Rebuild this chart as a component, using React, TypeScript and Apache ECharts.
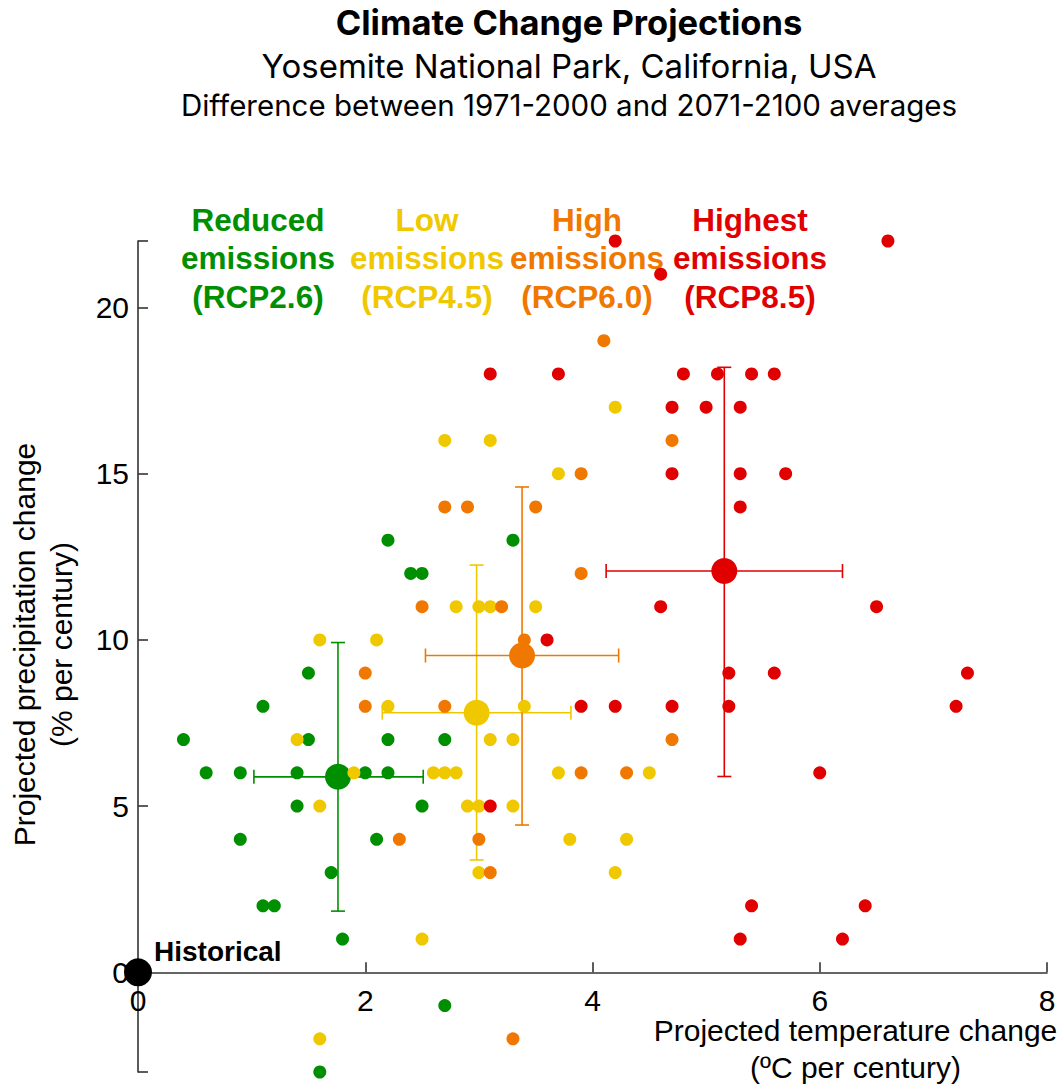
import React, { useEffect, useRef } from 'react';
import * as echarts from 'echarts';

// ---------- data ----------
const scenarioLabels = [
  'Reduced\nemissions\n(RCP2.6)',
  'Low\nemissions\n(RCP4.5)',
  'High\nemissions\n(RCP6.0)',
  'Highest\nemissions\n(RCP8.5)',
];
const scenarioKeys = ['RCP2.6', 'RCP4.5', 'RCP6.0', 'RCP8.5'];

// individual model projections: [temperature change, precipitation change]
const rcp26 = [
  [0.4, 7], [0.6, 6], [0.9, 6], [0.9, 4], [1.1, 8], [1.1, 2], [1.2, 2], [1.4, 6], [1.4, 5],
  [1.5, 9], [1.5, 7], [1.7, 3], [1.8, 1], [2.0, 6], [2.1, 4], [2.2, 13], [2.2, 7], [2.2, 6],
  [2.4, 12], [2.5, 12], [2.5, 5], [2.7, 7], [2.7, -1], [1.6, -3], [3.3, 13],
];
const rcp45 = [
  [1.4, 7], [1.6, 10], [1.6, 5], [1.6, -2], [1.9, 6], [2.1, 10], [2.2, 8], [2.5, 1], [2.6, 6],
  [2.7, 6], [2.8, 6], [2.7, 16], [2.8, 11], [3.0, 11], [3.1, 11], [3.1, 16], [3.5, 11], [3.4, 8],
  [3.1, 7], [3.3, 7], [2.9, 5], [3.0, 5], [3.3, 5], [3.0, 3], [3.7, 15], [3.7, 6], [3.8, 4],
  [4.2, 17], [4.2, 3], [4.3, 4], [4.5, 6],
];
const rcp60 = [
  [2.0, 9], [2.0, 8], [2.3, 4], [2.5, 11], [2.7, 14], [2.9, 14], [2.7, 8], [3.2, 11], [3.4, 10],
  [3.5, 14], [3.0, 4], [3.1, 3], [3.3, -2], [3.9, 15], [3.9, 12], [3.9, 6], [4.1, 19], [4.3, 6],
  [4.7, 16], [4.7, 7],
];
const rcp85 = [
  [3.1, 18], [3.7, 18], [3.1, 5], [3.6, 10], [3.9, 8], [4.2, 22], [4.2, 8], [4.6, 21], [4.6, 11],
  [4.7, 17], [4.7, 15], [4.7, 8], [4.8, 18], [5.0, 17], [5.1, 18], [5.3, 17], [5.3, 15], [5.3, 14],
  [5.4, 18], [5.6, 18], [5.7, 15], [5.2, 9], [5.2, 8], [5.6, 9], [6.0, 6], [6.5, 11], [6.6, 22],
  [7.2, 8], [7.3, 9], [5.4, 2], [6.4, 2], [5.3, 1], [6.2, 1],
];
const scenarioPoints = [rcp26, rcp45, rcp60, rcp85];

// ensemble means and spreads
const meanTemp = [1.76, 2.98, 3.38, 5.16];
const meanPrecip = [5.88, 7.81, 9.53, 12.07];
const tempLow = [1.02, 2.15, 2.53, 4.12];
const tempHigh = [2.51, 3.81, 4.23, 6.2];
const precipLow = [1.84, 3.38, 4.43, 5.89];
const precipHigh = [9.92, 12.25, 14.6, 18.2];

const historical = [[0, 0]];

const xTickValues = [0, 2, 4, 6, 8];
const yLabelValues = [0, 5, 10, 15, 20];
const yTickValues = [-3, 0, 5, 10, 15, 20, 22];
const yMin = -3;
const yMax = 22;

// ---------- styling ----------
const colors = ['#008f00', '#f0c800', '#f07800', '#e00000'];
const labelCenters = [258, 427, 587, 750];
const helv = '"Liberation Sans", Arial, Helvetica, sans-serif';
const titleFont = 'Inter, "Open Sans", sans-serif';
const gridTop = 241;
const gridBottom = 14;
const gridHeight = 1086 - gridTop - gridBottom;

export default function App() {
  const ref = useRef<HTMLDivElement>(null);

  useEffect(() => {
    if (!ref.current) return;
    const chart = echarts.init(ref.current, null, { renderer: 'svg' });

    const series: any[] = [];
    scenarioKeys.forEach((key, i) => {
      const color = colors[i];
      series.push({
        name: key,
        type: 'scatter',
        data: scenarioPoints[i],
        symbolSize: 13,
        itemStyle: { color, opacity: 1 },
        emphasis: { disabled: true },
      });
      series.push({
        name: key + ' spread',
        type: 'custom',
        data: [[meanTemp[i], meanPrecip[i], tempLow[i], tempHigh[i], precipLow[i], precipHigh[i]]],
        encode: { x: [0, 2, 3], y: [1, 4, 5] },
        renderItem: (params: any, api: any) => {
          const mx = api.value(0);
          const my = api.value(1);
          const pL = api.coord([api.value(2), my]);
          const pR = api.coord([api.value(3), my]);
          const pB = api.coord([mx, api.value(4)]);
          const pT = api.coord([mx, api.value(5)]);
          const c = 7;
          const style = { stroke: color, lineWidth: 1.6, fill: null };
          return {
            type: 'group',
            children: [
              { type: 'line', shape: { x1: pL[0], y1: pL[1], x2: pR[0], y2: pR[1] }, style },
              { type: 'line', shape: { x1: pL[0], y1: pL[1] - c, x2: pL[0], y2: pL[1] + c }, style },
              { type: 'line', shape: { x1: pR[0], y1: pR[1] - c, x2: pR[0], y2: pR[1] + c }, style },
              { type: 'line', shape: { x1: pB[0], y1: pB[1], x2: pT[0], y2: pT[1] }, style },
              { type: 'line', shape: { x1: pB[0] - c, y1: pB[1], x2: pB[0] + c, y2: pB[1] }, style },
              { type: 'line', shape: { x1: pT[0] - c, y1: pT[1], x2: pT[0] + c, y2: pT[1] }, style },
            ],
          };
        },
      });
      series.push({
        name: key + ' mean',
        type: 'scatter',
        data: [[meanTemp[i], meanPrecip[i]]],
        symbolSize: 26,
        itemStyle: { color, opacity: 1 },
        emphasis: { disabled: true },
      });
    });

    series.push({
      name: 'Historical',
      type: 'scatter',
      data: historical,
      symbolSize: 28,
      itemStyle: { color: '#000', opacity: 1 },
      emphasis: { disabled: true },
      label: {
        show: true,
        position: 'right',
        distance: 2,
        offset: [0, -21],
        formatter: 'Historical',
        color: '#000',
        fontFamily: helv,
        fontWeight: 'bold',
        fontSize: 28,
      },
      z: 5,
    });

    const graphics: any[] = [
      {
        type: 'text', x: 569, y: 22,
        style: { text: 'Climate Change Projections', align: 'center', verticalAlign: 'middle',
          fontFamily: titleFont, fontWeight: 'bold', fontSize: 34.5, lineHeight: 35, fill: '#000' },
      },
      {
        type: 'text', x: 569, y: 66,
        style: { text: 'Yosemite National Park, California, USA', align: 'center', verticalAlign: 'middle',
          fontFamily: titleFont, fontSize: 33, lineHeight: 33, fill: '#000' },
      },
      {
        type: 'text', x: 569, y: 104.5,
        style: { text: 'Difference between 1971-2000 and 2071-2100 averages', align: 'center', verticalAlign: 'middle',
          fontFamily: titleFont, fontSize: 29.5, lineHeight: 29, fill: '#000' },
      },
    ];
    scenarioLabels.forEach((t, i) => {
      graphics.push({
        type: 'text', x: labelCenters[i], y: 258, z: -1,
        style: { text: t, align: 'center', verticalAlign: 'middle', fontFamily: helv, fontWeight: 'bold',
          fontSize: 31.5, lineHeight: 38.5, fill: colors[i] },
      });
    });

    // the x axis crosses the y axis at precipitation 0
    const xAxisOffset = -(gridHeight * (0 - yMin)) / (yMax - yMin);

    chart.setOption({
      animation: false,
      backgroundColor: '#fff',
      grid: { left: 138, right: 14, top: gridTop, bottom: gridBottom, containLabel: false, outerBoundsMode: 'none' },
      tooltip: { show: false },
      xAxis: {
        type: 'value', min: 0, max: 8, interval: 2,
        position: 'bottom',
        offset: xAxisOffset,
        name: 'Projected temperature change\n(ºC per century)',
        nameLocation: 'middle', nameGap: 40, nameMoveOverlap: false,
        nameTextStyle: { fontFamily: helv, fontSize: 30, color: '#000', align: 'center', verticalAlign: 'top',
          lineHeight: 37, padding: [0, 0, 0, 526] },
        axisLine: { show: true, onZero: false, lineStyle: { color: '#333', width: 1.6 } },
        axisTick: { show: true, inside: true, length: 10, customValues: xTickValues, lineStyle: { color: '#333', width: 1.6 } },
        axisLabel: { show: true, margin: 13, customValues: xTickValues, fontFamily: helv, fontSize: 30, color: '#000' },
        splitLine: { show: false },
      },
      yAxis: {
        type: 'value', min: yMin, max: yMax,
        name: 'Projected precipitation change\n(% per century)',
        nameLocation: 'middle', nameGap: 58,
        nameTextStyle: { fontFamily: helv, fontSize: 30, color: '#000', lineHeight: 37, padding: [0, 0, 0, 24] },
        axisLine: { show: true, onZero: false, lineStyle: { color: '#333', width: 1.6 } },
        axisTick: { show: true, inside: true, length: 10, customValues: yTickValues, lineStyle: { color: '#333', width: 1.6 } },
        axisLabel: { show: true, margin: 9, customValues: yLabelValues, fontFamily: helv, fontSize: 30, color: '#000' },
        splitLine: { show: false },
      },
      graphic: graphics,
      series,
    });

    return () => chart.dispose();
  }, []);

  return <div ref={ref} style={{ position: 'absolute', left: 0, top: 0, width: 1061, height: 1086 }} />;
}
